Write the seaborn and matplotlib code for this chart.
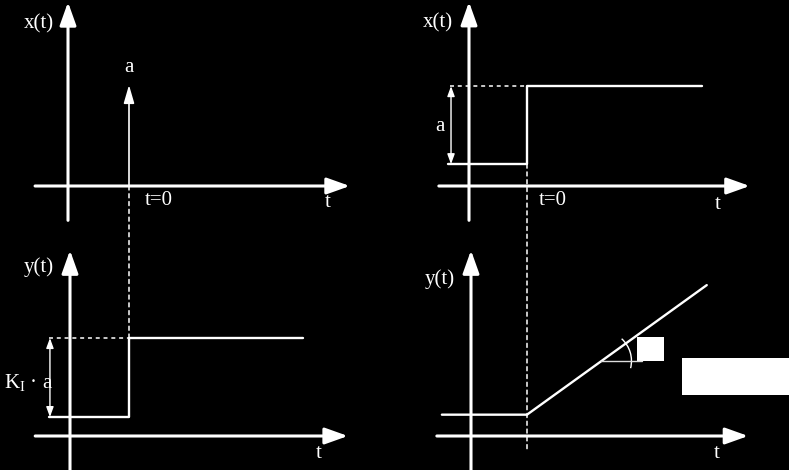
import numpy as np
import matplotlib
matplotlib.use("Agg")
import matplotlib.pyplot as plt
from matplotlib.patches import Rectangle, Arc, ConnectionPatch
import seaborn as sns

# ==========================
# data (logical units: t=0 at the switch instant, amplitude a = 1)
# ==========================
# top left: impulse of weight a
impulse_t = [0.0, 0.0]
impulse_x = [0.0, 1.0]

# top right: input step of height a
step_in_t = [-1.36, 0.0, 0.0, 3.02]
step_in_x = [0.28, 0.28, 1.28, 1.28]

# bottom left: response to impulse -> step of height KI*a
step_out_t = [-1.36, 0.0, 0.0, 2.95]
step_out_y = [0.24, 0.24, 1.24, 1.24]

# bottom right: response to step -> ramp
ramp_t = [-1.52, 0.0, 3.21]
ramp_y = [0.27, 0.27, 1.91]

# per panel: (t=0 pixel x, time-axis pixel y, px per t, px per unit)
panels = {
    "x_imp": (129, 186, 61, 101),
    "x_step": (527, 186, 58, 78),
    "y_imp": (129, 436, 59, 79),
    "y_step": (527, 436, 56, 79),
}
# axis extents (t range of time axis, y range of vertical axis)
axis_ext = {
    "x_imp": ((-1.54, 3.62), (-0.34, 1.82)),
    "x_step": ((-1.52, 3.84), (-0.44, 2.36)),
    "y_imp": ((-1.59, 3.71), (-0.43, 2.35)),
    "y_step": ((-1.61, 3.95), (-0.43, 2.35)),
}

W, H = 789, 470
FG = "white"

sns.set_theme(style="dark", rc={"figure.facecolor": "black", "axes.facecolor": "none"})
plt.rcParams["font.family"] = ["Liberation Serif", "DejaVu Serif"]
plt.rcParams["mathtext.fontset"] = "custom"
plt.rcParams["mathtext.rm"] = "Liberation Serif"

fig = plt.figure(figsize=(W / 100, H / 100), dpi=100)
fig.patch.set_facecolor("black")


def make_ax(key):
    ox, oy, sx, sy = panels[key]
    ax = fig.add_axes([0, 0, 1, 1])
    ax.set_xlim(-ox / sx, (W - ox) / sx)
    ax.set_ylim((oy - H) / sy, oy / sy)
    ax.set_axis_off()
    return ax


def arrow(ax, start, end, hl=14, hw=5, lw=2.2, style="-|>"):
    ax.annotate("", xy=end, xytext=start,
                arrowprops=dict(arrowstyle=f"{style},head_length={hl},head_width={hw}",
                                mutation_scale=1, lw=lw, color=FG,
                                shrinkA=0, shrinkB=0))


def draw_axes(ax, key):
    (t0, t1), (y0, y1) = axis_ext[key]
    arrow(ax, (t0, 0), (t1, 0))
    arrow(ax, (-1.0, y0), (-1.0, y1))


def signal(ax, t, v):
    sns.lineplot(x=t, y=v, ax=ax, sort=False, estimator=None, color=FG, lw=1.7)


txt = dict(color=FG, fontsize=15, ha="center", va="center")
dash = (0, (2.6, 2.5))

# --------------------------
# x(t): impulse
# --------------------------
ax1 = make_ax("x_imp")
draw_axes(ax1, "x_imp")
arrow(ax1, (impulse_t[0], impulse_x[0]), (impulse_t[1], impulse_x[1]), hl=11, hw=3.2, lw=1.2)
ax1.text(-1.48, 1.61, "x(t)", **txt)
ax1.text(0.0, 1.17, "a", **txt)
ax1.text(0.48, -0.14, "t=0", **txt)
ax1.text(3.25, -0.16, "t", **txt)

# --------------------------
# x(t): step
# --------------------------
ax2 = make_ax("x_step")
draw_axes(ax2, "x_step")
signal(ax2, step_in_t, step_in_x)
ax2.plot([-1.33, 0], [step_in_x[-1]] * 2, color=FG, lw=1.1, ls=dash)
arrow(ax2, (-1.31, step_in_x[0]), (-1.31, step_in_x[-1]), hl=6, hw=2.2, lw=1.0, style="<|-|>")
ax2.text(-1.5, 0.76, "a", **txt)
ax2.text(-1.53, 2.09, "x(t)", **txt)
ax2.text(0.45, -0.18, "t=0", **txt)
ax2.text(3.29, -0.24, "t", **txt)

# --------------------------
# y(t): response to impulse
# --------------------------
ax3 = make_ax("y_imp")
draw_axes(ax3, "y_imp")
signal(ax3, step_out_t, step_out_y)
ax3.plot([-1.36, 0], [step_out_y[-1]] * 2, color=FG, lw=1.1, ls=dash)
arrow(ax3, (-1.34, step_out_y[0]), (-1.34, step_out_y[-1]), hl=6, hw=2.2, lw=1.0, style="<|-|>")
ax3.text(-2.12, 0.67, r"K$_{\mathrm{I}}$ · a", color=FG, fontsize=15, ha="left", va="center")
ax3.text(-1.53, 2.14, "y(t)", **txt)
ax3.text(3.22, -0.22, "t", **txt)

# --------------------------
# y(t): response to step
# --------------------------
ax4 = make_ax("y_step")
draw_axes(ax4, "y_step")
signal(ax4, ramp_t, ramp_y)
ax4.plot([1.33, 2.05], [0.95, 0.95], color="#dddddd", lw=1.0)
ax4.add_patch(Arc((1.33, 0.95), 2 * 30 / 56, 2 * 30 / 79, theta1=-10, theta2=38,
                  color=FG, lw=1.0))
ax4.add_patch(Rectangle((1.96, 0.95), 0.49, 0.30, color=FG, lw=0))
ax4.add_patch(Rectangle((2.77, 0.52), 1.91, 0.47, color=FG, lw=0))
ax4.text(-1.55, 1.99, "y(t)", **txt)
ax4.text(3.39, -0.22, "t", **txt)

# dashed guides linking input and output at t=0
for a_from, p_from, a_to, p_to in [(ax1, (0, 0), ax3, (0, step_out_y[-1])),
                                   (ax2, (0, step_in_x[0]), ax4, (0, -0.18))]:
    con = ConnectionPatch(p_from, p_to, coordsA=a_from.transData, coordsB=a_to.transData,
                          color=FG, lw=1.1, ls=dash)
    fig.add_artist(con)

fig.savefig("out.png", dpi=100, facecolor="black")
